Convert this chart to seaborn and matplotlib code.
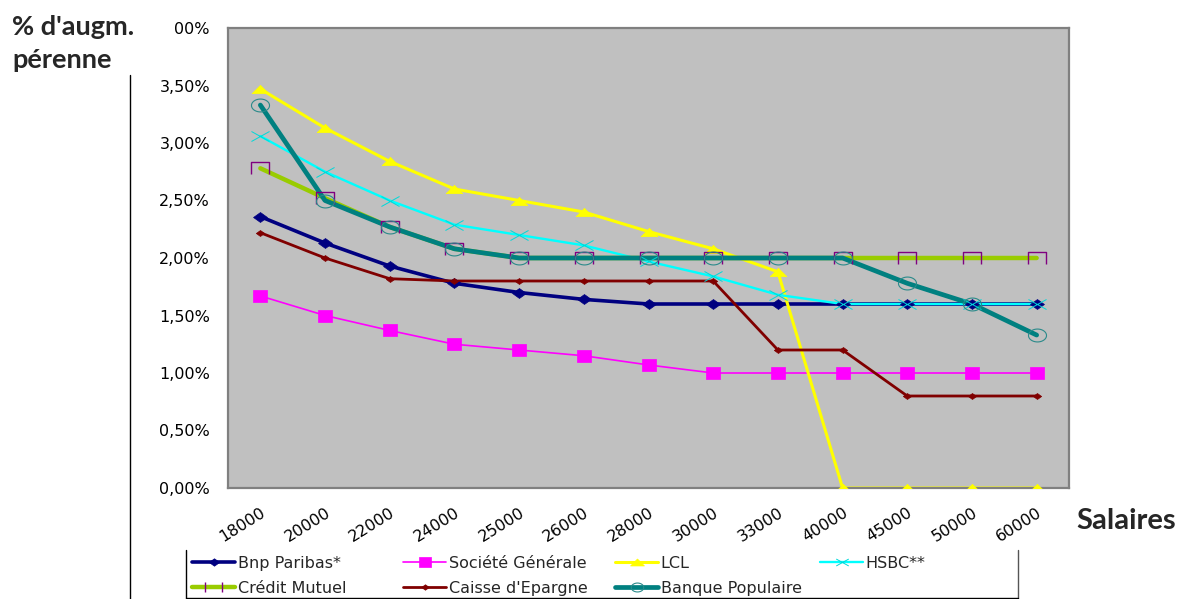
import matplotlib
matplotlib.use("Agg")
import matplotlib.pyplot as plt
import seaborn as sns
import numpy as np
from matplotlib.lines import Line2D
from matplotlib.path import Path
from matplotlib.legend_handler import HandlerLine2D, HandlerTuple

# ---------------- data ----------------
salaires = ["18000", "20000", "22000", "24000", "25000", "26000", "28000",
            "30000", "33000", "40000", "45000", "50000", "60000"]
bnp_paribas = [2.36, 2.13, 1.93, 1.78, 1.70, 1.64, 1.60, 1.60, 1.60, 1.60, 1.60, 1.60, 1.60]
societe_generale = [1.67, 1.50, 1.37, 1.25, 1.20, 1.15, 1.07, 1.00, 1.00, 1.00, 1.00, 1.00, 1.00]
lcl = [3.47, 3.13, 2.84, 2.60, 2.50, 2.40, 2.23, 2.08, 1.88, 0.00, 0.00, 0.00, 0.00]
hsbc = [3.06, 2.75, 2.50, 2.29, 2.20, 2.11, 1.97, 1.84, 1.68, 1.60, 1.60, 1.60, 1.60]
credit_mutuel = [2.78, 2.52, 2.27, 2.08, 2.00, 2.00, 2.00, 2.00, 2.00, 2.00, 2.00, 2.00, 2.00]
caisse_epargne = [2.22, 2.00, 1.82, 1.80, 1.80, 1.80, 1.80, 1.80, 1.20, 1.20, 0.80, 0.80, 0.80]
banque_populaire = [3.33, 2.50, 2.27, 2.08, 2.00, 2.00, 2.00, 2.00, 2.00, 2.00, 1.78, 1.60, 1.33]
y_ticks = [0, 0.5, 1.0, 1.5, 2.0, 2.5, 3.0, 3.5, 4.0]
y_tick_labels = ["0,00%", "0,50%", "1,00%", "1,50%", "2,00%", "2,50%", "3,00%", "3,50%", "00%"]

sns.set_theme(style="white")
plt.rcParams['font.family'] = ['DejaVu Sans']

W, H = 1185, 599
fig = plt.figure(figsize=(W / 100, H / 100), dpi=100)


def fx(px):
    return px / W


def fy(py):
    return 1 - py / H


# horizontally stretched marker shapes (as in the reference export)
M, L = Path.MOVETO, Path.LINETO
diamond = Path([(-1.4, 0), (0, 1), (1.4, 0), (0, -1), (-1.4, 0)], [M, L, L, L, Path.CLOSEPOLY])
rect = Path([(-1.2, -1), (-1.2, 1), (1.2, 1), (1.2, -1), (-1.2, -1)], [M, L, L, L, Path.CLOSEPOLY])
tri = Path([(-1.6, -0.8), (0, 0.8), (1.6, -0.8), (-1.6, -0.8)], [M, L, L, Path.CLOSEPOLY])
cross = Path([(-1.8, -1), (1.8, 1), (-1.8, 1), (1.8, -1)], [M, L, M, L])
cap = Path([(-1.5, -1), (-1.5, 1), (1.5, 1), (1.5, -1)], [M, L, L, L])
t = np.linspace(0, 2 * np.pi, 41)
ellipse = Path(np.column_stack([1.4 * np.cos(t), np.sin(t)]))

ax = fig.add_axes([fx(228), fy(488), (1069 - 228) / W, (488 - 28) / H])
ax.set_facecolor('#C0C0C0')
x = np.arange(len(salaires))

# name, values, color, lw, marker, ms (pt), mfc, mec, mew
series = [
    ("Bnp Paribas*", bnp_paribas, "#000080", 2.6, diamond, 10, "#000080", "#000080", 0.5),
    ("Société Générale", societe_generale, "#FF00FF", 1.2, rect, 10, "#FF00FF", "#FF00FF", 0.5),
    ("LCL", lcl, "#FFFF00", 2.2, tri, 12, "#FFFF00", "#FFFF00", 0.5),
    ("HSBC**", hsbc, "#00FFFF", 1.7, cross, 13, "none", "#00D8D8", 0.7),
    ("Crédit Mutuel", credit_mutuel, "#99CC00", 3.2, cap, 13, "none", "#800080", 1.0),
    ("Caisse d'Epargne", caisse_epargne, "#800000", 2.0, diamond, 6, "#800000", "#800000", 0.5),
    ("Banque Populaire", banque_populaire, "#008080", 3.4, ellipse, 13, "none", "#2A8A8A", 0.8),
]

for i, (name, vals, col, lw, mk, ms, mfc, mec, mew) in enumerate(series):
    sns.lineplot(x=x, y=vals, ax=ax, color=col, lw=lw, zorder=2 + i * 0.1,
                 legend=False, solid_capstyle='round', solid_joinstyle='round')
for i, (name, vals, col, lw, mk, ms, mfc, mec, mew) in enumerate(series):
    sns.lineplot(x=x, y=vals, ax=ax, color=col, linestyle='none', marker=mk,
                 markersize=ms, markerfacecolor=mfc, markeredgecolor=mec,
                 markeredgewidth=mew, zorder=5 + i * 0.1, legend=False)

ax.set_xlim(-0.5, len(salaires) - 0.5)
ax.set_ylim(0, 4.0)
ax.set_yticks(y_ticks)
ax.set_yticklabels(y_tick_labels)
ax.set_xticks(x)
ax.set_xticklabels(salaires, rotation=32, ha='right', rotation_mode='anchor')
ax.tick_params(axis='y', length=0, pad=13, labelsize=11.5, labelcolor='black')
ax.tick_params(axis='x', length=0, pad=12, labelsize=11.5, labelcolor='black')
ax.set_xlabel("")
ax.set_ylabel("")
for sp in ax.spines.values():
    sp.set_color('#808080')
    sp.set_linewidth(1.6)

# axis titles
title_kw = dict(fontsize=19.5, fontweight='bold', family=['Lato', 'DejaVu Sans'],
                va='center', ha='left', color='#262626')
fig.text(fx(12), fy(27), "% d'augm.", **title_kw)
fig.text(fx(12), fy(60), "pérenne", **title_kw)
fig.text(fx(1076), fy(521), "Salaires", **dict(title_kw, fontsize=21))

# vertical line at left of chart
fig.add_artist(Line2D([fx(130), fx(130)], [fy(75), fy(599)], color='black', lw=1.0))

# legend
handles = {}
leg_ms = {"Bnp Paribas*": 7.5, "Société Générale": 8.5, "LCL": 10, "HSBC**": 9,
          "Caisse d'Epargne": 5.5, "Banque Populaire": 9}
hmap = {}
for (name, vals, col, lw, mk, ms, mfc, mec, mew) in series:
    if name == "Crédit Mutuel":
        cm_line = Line2D([], [], color=col, lw=lw)
        cm_marks = Line2D([], [], linestyle='none', marker='|', markersize=7.5,
                          markeredgecolor='#800080', markeredgewidth=1.0)
        hmap[cm_marks] = HandlerLine2D(numpoints=2, marker_pad=0.8)
        handles[name] = (cm_line, cm_marks)
    else:
        handles[name] = Line2D([], [], color=col, lw=lw, marker=mk,
                               markersize=leg_ms[name], markerfacecolor=mfc,
                               markeredgecolor=mec, markeredgewidth=mew)
hmap[tuple] = HandlerTuple(ndivide=1)

columns = [
    (192, ["Bnp Paribas*", "Crédit Mutuel"]),
    (403, ["Société Générale", "Caisse d'Epargne"]),
    (615, ["LCL", "Banque Populaire"]),
    (820, ["HSBC**"]),
]
for xpos, names in columns:
    fig.legend([handles[n] for n in names], names, loc='upper left',
               bbox_to_anchor=(fx(xpos), fy(556)), frameon=False,
               fontsize=11.5, handlelength=2.7, handletextpad=0.15,
               borderpad=0, borderaxespad=0, labelspacing=0.62,
               numpoints=1, handler_map=hmap)

fig.add_artist(Line2D([fx(186), fx(186)], [fy(550), fy(598)], color='black', lw=1.0))
fig.add_artist(Line2D([fx(1018), fx(1018)], [fy(550), fy(598)], color='#555555', lw=1.0))
fig.add_artist(Line2D([fx(186), fx(1018)], [fy(598), fy(598)], color='black', lw=1.0))

fig.savefig("out.png", dpi=100)
